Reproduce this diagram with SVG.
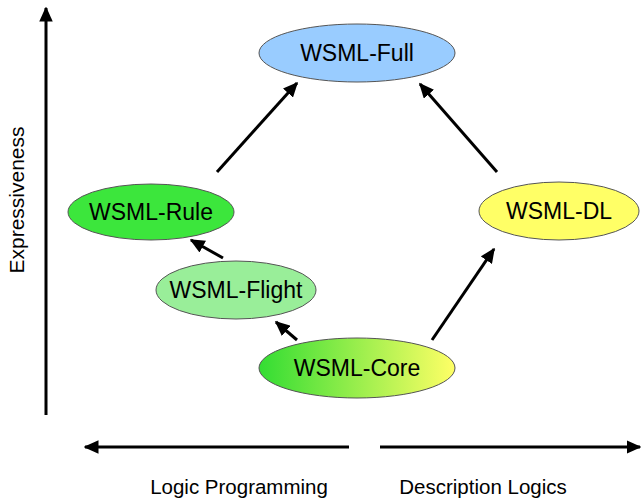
<svg xmlns="http://www.w3.org/2000/svg" width="641" height="498" viewBox="0 0 641 498">
<style>
.node{stroke:#555;stroke-width:1}
.lbl{font-family:"Liberation Sans",Arial,sans-serif;font-size:23px;fill:#000;text-anchor:middle}
.ax{font-family:"Liberation Sans",Arial,sans-serif;font-size:20.5px;fill:#000;text-anchor:middle}
.c{stroke:#000;stroke-width:3;fill:none;marker-end:url(#ah)}
</style>
<defs>
<marker id="ah" viewBox="0 0 10 10" refX="9" refY="5" markerWidth="5" markerHeight="4.5" orient="auto" markerUnits="strokeWidth" preserveAspectRatio="none"><path d="M0,0 L10,5 L0,10 z" fill="#000"/></marker>
<linearGradient id="g" x1="0" y1="0" x2="1" y2="0"><stop offset="0" stop-color="#33dd33"/><stop offset="1" stop-color="#ffff66"/></linearGradient>
</defs>
<g id="axes">
<line class="c" x1="46" y1="415" x2="46" y2="8"/>
<line class="c" x1="349" y1="447" x2="85" y2="447"/>
<line class="c" x1="380" y1="447" x2="640" y2="447"/>
<text class="ax" transform="translate(24,200) rotate(-90)" style="font-size:21px">Expressiveness</text>
<text class="ax" x="239" y="494">Logic Programming</text>
<text class="ax" x="483" y="494">Description Logics</text>
</g>
<g id="connectors">
<line class="c" x1="217" y1="172" x2="297" y2="83"/>
<line class="c" x1="497" y1="172" x2="420" y2="84"/>
<line class="c" x1="223" y1="258" x2="191" y2="240"/>
<line class="c" x1="297" y1="340" x2="276" y2="322"/>
<line class="c" x1="432" y1="340" x2="494" y2="249"/>
</g>
<g id="full"><ellipse class="node" cx="357" cy="53" rx="98" ry="29" fill="#99ccff"/><text class="lbl" x="357" y="61">WSML-Full</text></g>
<g id="rule"><ellipse class="node" cx="151" cy="212" rx="83" ry="28" fill="#3ce63c"/><text class="lbl" x="151" y="220">WSML-Rule</text></g>
<g id="flight"><ellipse class="node" cx="236" cy="290" rx="80" ry="29" fill="#99ee99"/><text class="lbl" x="236" y="298">WSML-Flight</text></g>
<g id="core"><ellipse class="node" cx="357" cy="368" rx="98" ry="30" fill="url(#g)"/><text class="lbl" x="357" y="376">WSML-Core</text></g>
<g id="dl"><ellipse class="node" cx="559" cy="211" rx="80" ry="29" fill="#ffff66"/><text class="lbl" x="559" y="219">WSML-DL</text></g>
</svg>
